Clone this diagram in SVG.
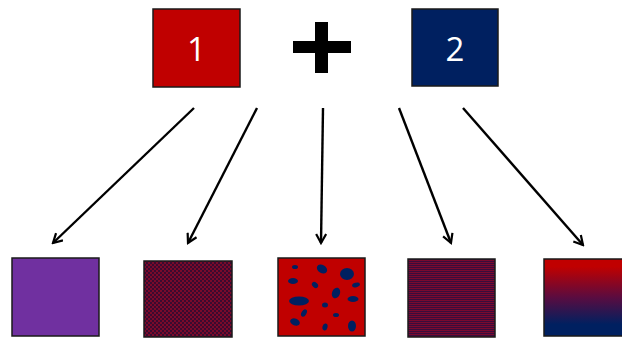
<svg xmlns="http://www.w3.org/2000/svg" width="622" height="338" viewBox="0 0 622 338">
<style>
.box{stroke:#1a1a1a;stroke-width:1.5}
.num{font-family:"Open Sans","Liberation Sans",sans-serif;font-size:33px;fill:#ffffff;text-anchor:middle}
.arr{stroke:#000;stroke-width:2.4;fill:none;marker-end:url(#ah)}
.blob{fill:#002060}
</style>
<defs>
<marker id="ah" viewBox="0 0 12 12" refX="10" refY="6" markerWidth="12" markerHeight="12" markerUnits="userSpaceOnUse" orient="auto">
<path d="M1,1 L10,6 L1,11" fill="none" stroke="#000" stroke-width="2.2"/>
</marker>
<pattern id="checker" width="4" height="4" patternUnits="userSpaceOnUse">
<rect width="4" height="4" fill="#7a0a2a"/>
<rect width="2" height="2" fill="#3a0a30"/>
<rect x="2" y="2" width="2" height="2" fill="#3a0a30"/>
</pattern>
<pattern id="stripes" width="4" height="2" patternUnits="userSpaceOnUse">
<rect width="4" height="2" fill="#7a0a2e"/>
<rect y="1" width="4" height="1" fill="#3a0c3c"/>
</pattern>
<linearGradient id="grad" x1="0" y1="0" x2="0" y2="1">
<stop offset="0.1" stop-color="#C00000"/>
<stop offset="0.5" stop-color="#5a0c40"/>
<stop offset="0.85" stop-color="#002060"/>
</linearGradient>
</defs>
<g id="node-1">
<rect class="box" x="153" y="9" width="87" height="78" fill="#C00000"/>
<text class="num" x="196.5" y="61">1</text>
</g>
<g id="plus">
<rect x="293" y="41" width="58" height="12" fill="#000"/>
<rect x="315" y="22" width="13" height="51" fill="#000"/>
</g>
<g id="node-2">
<rect class="box" x="412" y="9" width="86" height="77" fill="#002060"/>
<text class="num" x="455" y="61">2</text>
</g>
<g id="connectors">
<path class="arr" d="M194,108 L53,243"/>
<path class="arr" d="M257,108 L188,243"/>
<path class="arr" d="M323,108 L321,243"/>
<path class="arr" d="M399,108 L451,243"/>
<path class="arr" d="M463,108 L583,245"/>
</g>
<g id="result-purple">
<rect class="box" x="12" y="258" width="87" height="78" fill="#7030A0"/>
</g>
<g id="result-checker">
<rect class="box" x="144" y="261" width="88" height="76" fill="url(#checker)"/>
</g>
<g id="result-blobs">
<rect class="box" x="278" y="258" width="87" height="78" fill="#C00000"/>
<ellipse class="blob" cx="295" cy="267" rx="3" ry="2"/>
<ellipse class="blob" cx="322" cy="269" rx="5.5" ry="4" transform="rotate(30 322 269)"/>
<ellipse class="blob" cx="347" cy="274" rx="7" ry="6"/>
<ellipse class="blob" cx="293" cy="281" rx="5" ry="3"/>
<ellipse class="blob" cx="315" cy="285" rx="3.5" ry="2.5" transform="rotate(40 315 285)"/>
<ellipse class="blob" cx="356" cy="285" rx="4" ry="2.2" transform="rotate(-15 356 285)"/>
<ellipse class="blob" cx="336" cy="293" rx="4" ry="5.5" transform="rotate(20 336 293)"/>
<ellipse class="blob" cx="299" cy="301" rx="10" ry="4.5"/>
<ellipse class="blob" cx="353" cy="299" rx="5.5" ry="3"/>
<ellipse class="blob" cx="325" cy="305" rx="3" ry="2.5"/>
<ellipse class="blob" cx="304" cy="313" rx="2.5" ry="4" transform="rotate(30 304 313)"/>
<ellipse class="blob" cx="336" cy="315" rx="3" ry="2"/>
<ellipse class="blob" cx="295" cy="322" rx="5" ry="3.5" transform="rotate(20 295 322)"/>
<ellipse class="blob" cx="325" cy="327" rx="2.5" ry="3.5" transform="rotate(15 325 327)"/>
<ellipse class="blob" cx="352" cy="326" rx="4" ry="5.5"/>
</g>
<g id="result-stripes">
<rect class="box" x="408" y="259" width="87" height="78" fill="url(#stripes)"/>
</g>
<g id="result-gradient">
<rect class="box" x="544" y="259" width="80" height="77" fill="url(#grad)"/>
</g>
</svg>
